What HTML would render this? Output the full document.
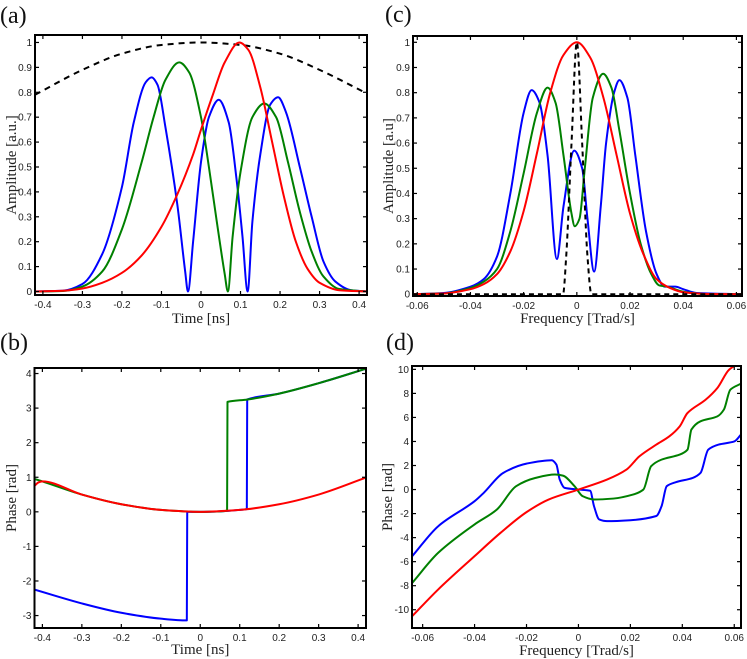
<!DOCTYPE html>
<html><head><meta charset="utf-8"><style>
html,body{margin:0;padding:0;background:#fff;}
svg{display:block;}
.tk{font-family:"Liberation Sans",sans-serif;font-size:10px;fill:#222;}
.al{font-family:"Liberation Serif",serif;font-size:15px;fill:#222;}
.pl{font-family:"Liberation Serif",serif;font-size:24px;fill:#111;}
</style></head><body>
<svg id="fig" width="747" height="659" viewBox="0 0 747 659" xmlns="http://www.w3.org/2000/svg"></svg>
<script>
// ---- Panel (a) data: amplitude vs time ----
const aBlueX=[-0.42,-0.35,-0.3,-0.25,-0.2,-0.17,-0.14,-0.125,-0.11,-0.09,-0.06,-0.04,-0.033,-0.02,0,0.02,0.045,0.07,0.09,0.105,0.118,0.13,0.15,0.175,0.195,0.215,0.25,0.28,0.31,0.34,0.38,0.42];
const aBlueY=[0,0.003,0.03,0.15,0.42,0.68,0.84,0.86,0.83,0.66,0.35,0.08,0,0.2,0.52,0.7,0.77,0.68,0.45,0.22,0,0.28,0.55,0.75,0.78,0.72,0.5,0.3,0.12,0.04,0.005,0];
const aGreenX=[-0.42,-0.35,-0.3,-0.25,-0.2,-0.15,-0.12,-0.09,-0.055,-0.03,0,0.02,0.04,0.06,0.068,0.08,0.1,0.13,0.16,0.19,0.22,0.25,0.28,0.31,0.35,0.42];
const aGreenY=[0,0.002,0.02,0.08,0.25,0.52,0.7,0.85,0.92,0.88,0.7,0.5,0.28,0.07,0,0.22,0.48,0.7,0.755,0.7,0.52,0.32,0.16,0.06,0.01,0];
const aRedX=[-0.42,-0.35,-0.3,-0.25,-0.2,-0.15,-0.1,-0.06,-0.02,0,0.03,0.06,0.097,0.12,0.15,0.18,0.21,0.24,0.27,0.3,0.35,0.42];
const aRedY=[0,0.003,0.012,0.035,0.075,0.145,0.26,0.39,0.55,0.65,0.79,0.92,1.0,0.97,0.82,0.6,0.38,0.2,0.09,0.035,0.005,0];
const aDashX=[-0.42,-0.3,-0.2,-0.1,0,0.1,0.2,0.3,0.42];
const aDashY=[0.79,0.89,0.955,0.99,1.0,0.99,0.955,0.89,0.795];
const aXTicks=[-0.4,-0.3,-0.2,-0.1,0,0.1,0.2,0.3,0.4];
const aXLabels=["-0.4","-0.3","-0.2","-0.1","0","0.1","0.2","0.3","0.4"];
const aYTicks=[0,0.1,0.2,0.3,0.4,0.5,0.6,0.7,0.8,0.9,1];
const aYLabels=["0","0.1","0.2","0.3","0.4","0.5","0.6","0.7","0.8","0.9","1"];

// ---- Panel (b) data: phase vs time ----
const bBlueX=[-0.42,-0.3,-0.2,-0.1,-0.034,-0.033,0,0.05,0.1,0.118,0.119,0.2,0.3,0.42];
const bBlueY=[-2.25,-2.65,-2.92,-3.09,-3.14,0,0,0.014,0.056,0.08,3.25,3.42,3.72,4.14];
const bGreenX=[-0.42,-0.4,-0.3,-0.2,-0.1,0,0.05,0.068,0.069,0.12,0.2,0.3,0.42];
const bGreenY=[0.95,0.88,0.5,0.22,0.056,0,0.014,0.03,3.18,3.25,3.42,3.72,4.14];
const bRedX=[-0.42,-0.41,-0.4,-0.3,-0.2,-0.1,0,0.1,0.2,0.3,0.42];
const bRedY=[0.75,0.85,0.88,0.5,0.22,0.056,0,0.056,0.22,0.5,0.99];
const bXTicks=[-0.4,-0.3,-0.2,-0.1,0,0.1,0.2,0.3,0.4];
const bXLabels=["-0.4","-0.3","-0.2","-0.1","0","0.1","0.2","0.3","0.4"];
const bYTicks=[-3,-2,-1,0,1,2,3,4];
const bYLabels=["-3","-2","-1","0","1","2","3","4"];

// ---- Panel (c) data: amplitude vs frequency ----
const cBlueX=[-0.062,-0.05,-0.04,-0.035,-0.03,-0.025,-0.02,-0.017,-0.014,-0.011,-0.0075,-0.005,-0.001,0.002,0.004,0.0065,0.009,0.011,0.014,0.016,0.019,0.022,0.026,0.03,0.033,0.037,0.04,0.045,0.062];
const cBlueY=[0,0.005,0.03,0.06,0.15,0.4,0.72,0.81,0.76,0.55,0.14,0.35,0.57,0.5,0.3,0.09,0.35,0.6,0.8,0.85,0.78,0.55,0.25,0.08,0.03,0.03,0.02,0.005,0];
const cGreenX=[-0.062,-0.05,-0.04,-0.035,-0.03,-0.025,-0.02,-0.015,-0.011,-0.008,-0.005,-0.002,-0.0008,0.001,0.003,0.006,0.0099,0.013,0.016,0.02,0.024,0.028,0.031,0.034,0.04,0.05,0.062];
const cGreenY=[0,0.003,0.025,0.05,0.1,0.25,0.48,0.72,0.82,0.76,0.55,0.32,0.27,0.3,0.5,0.78,0.875,0.82,0.65,0.4,0.2,0.08,0.035,0.03,0.01,0,0];
const cRedX=[-0.062,-0.05,-0.04,-0.035,-0.03,-0.025,-0.02,-0.015,-0.01,-0.005,0,0.005,0.01,0.015,0.02,0.025,0.03,0.035,0.04,0.05,0.062];
const cRedY=[0,0.003,0.02,0.04,0.08,0.17,0.33,0.56,0.8,0.95,1.0,0.94,0.78,0.55,0.32,0.16,0.06,0.025,0.008,0.001,0];
const cDashX=[-0.062,-0.0052,-0.004,-0.002,0,0.002,0.004,0.0055,0.062];
const cDashY=[0,0,0.15,0.6,1.0,0.6,0.15,0,0];
const cXTicks=[-0.06,-0.04,-0.02,0,0.02,0.04,0.06];
const cXLabels=["-0.06","-0.04","-0.02","0","0.02","0.04","0.06"];
const cYTicks=[0,0.1,0.2,0.3,0.4,0.5,0.6,0.7,0.8,0.9,1];
const cYLabels=["0","0.1","0.2","0.3","0.4","0.5","0.6","0.7","0.8","0.9","1"];

// ---- Panel (d) data: phase vs frequency ----
const dBlueX=[-0.064,-0.054,-0.04,-0.0365,-0.029,-0.02,-0.0103,-0.0085,-0.0072,-0.0053,0,0.0045,0.006,0.008,0.011,0.02,0.03,0.032,0.034,0.0375,0.044,0.047,0.05,0.054,0.06,0.0626];
const dBlueY=[-5.54,-3.05,-0.97,-0.28,1.38,2.16,2.44,2.08,0.83,0.14,0,-0.1,-1.39,-2.49,-2.63,-2.55,-2.2,-1.39,0.28,0.61,0.97,1.38,3.32,3.74,4.0,4.57];
const dGreenX=[-0.064,-0.054,-0.04,-0.0314,-0.024,-0.0165,-0.009,-0.006,-0.0015,0.0016,0.006,0.0135,0.021,0.025,0.028,0.032,0.039,0.042,0.0435,0.047,0.0535,0.056,0.0585,0.0626];
const dGreenY=[-7.76,-5.26,-2.9,-1.66,0.28,0.97,1.25,1.16,0.28,-0.55,-0.83,-0.75,-0.42,0,1.94,2.49,2.91,3.32,4.99,5.68,6.09,6.65,8.31,8.81];
const dRedX=[-0.064,-0.054,-0.04,-0.03,-0.02,-0.0115,0,0.011,0.0185,0.0235,0.03,0.035,0.039,0.042,0.049,0.0535,0.058,0.0626];
const dRedY=[-10.53,-8.31,-5.54,-3.6,-1.88,-0.83,0,0.83,1.66,2.77,3.74,4.43,5.26,6.37,7.48,8.45,9.97,10.6];
const dXTicks=[-0.06,-0.04,-0.02,0,0.02,0.04,0.06];
const dXLabels=["-0.06","-0.04","-0.02","0","0.02","0.04","0.06"];
const dYTicks=[-10,-8,-6,-4,-2,0,2,4,6,8,10];
const dYLabels=["-10","-8","-6","-4","-2","0","2","4","6","8","10"];

const NS="http://www.w3.org/2000/svg";
const svg=document.getElementById('fig');
function mk(tag,attrs,parent){const e=document.createElementNS(NS,tag);for(const k in attrs)e.setAttribute(k,attrs[k]);(parent||svg).appendChild(e);return e;}

function monoPath(px,py){
  const n=px.length;if(n<2)return '';
  const d=[],m=new Array(n);
  for(let i=0;i<n-1;i++){const dx=px[i+1]-px[i];d.push(dx===0?0:(py[i+1]-py[i])/dx);}
  m[0]=d[0];m[n-1]=d[n-2];
  for(let i=1;i<n-1;i++){m[i]=(d[i-1]*d[i]<=0)?0:(2/(1/d[i-1]+1/d[i]));}
  let s='M'+px[0].toFixed(2)+','+py[0].toFixed(2);
  for(let i=0;i<n-1;i++){
    const h=px[i+1]-px[i];
    if(Math.abs(h)<0.6){s+='L'+px[i+1].toFixed(2)+','+py[i+1].toFixed(2);continue;}
    const c1x=px[i]+h/3,c1y=py[i]+m[i]*h/3,c2x=px[i+1]-h/3,c2y=py[i+1]-m[i+1]*h/3;
    s+='C'+c1x.toFixed(2)+','+c1y.toFixed(2)+' '+c2x.toFixed(2)+','+c2y.toFixed(2)+' '+px[i+1].toFixed(2)+','+py[i+1].toFixed(2);
  }
  return s;
}

function panel(cfg){
  const g=mk('g',{});
  
  
  const L=cfg.box[0],T=cfg.box[1],R=cfg.box[2],B=cfg.box[3];
  const sx=v=>L+(v-cfg.xr[0])/(cfg.xr[1]-cfg.xr[0])*(R-L);
  const sy=v=>B-(v-cfg.yr[0])/(cfg.yr[1]-cfg.yr[0])*(B-T);
  const cid='clip-'+cfg.name;
  const defs=mk('defs',{},g);
  mk('rect',{x:L,y:T,width:R-L,height:B-T},mk('clipPath',{id:cid},defs));
  const lg=mk('g',{'clip-path':'url(#'+cid+')'},g);
  cfg.series.forEach(s=>{
    const p=mk('path',{d:monoPath(s.x.map(sx),s.y.map(sy)),fill:'none',stroke:s.c,'stroke-width':2,'stroke-linejoin':'round','stroke-dasharray':s.dash||'none'},lg);
    
    
  });
  const tg=mk('g',{stroke:'#000','stroke-width':1.2},g);
  cfg.xt.forEach((v,i)=>{
    const x=sx(v);
    mk('line',{x1:x,y1:B,x2:x,y2:B-4},tg);mk('line',{x1:x,y1:T,x2:x,y2:T+4},tg);
    const t=mk('text',{x:x,y:B+13,'text-anchor':'middle',class:'tk'},g);t.textContent=cfg.xl[i];
    
    
  });
  cfg.yt.forEach((v,i)=>{
    const y=sy(v);
    mk('line',{x1:L,y1:y,x2:L+4,y2:y},tg);mk('line',{x1:R,y1:y,x2:R-4,y2:y},tg);
    const t=mk('text',{x:L-3,y:y+3.5,'text-anchor':'end',class:'tk'},g);t.textContent=cfg.yl[i];
    
    
  });
  const fr=mk('rect',{x:L,y:T,width:R-L,height:B-T,fill:'none',stroke:'#000','stroke-width':2},g);
  
  
  const xt=mk('text',{x:(L+R)/2,y:cfg.xly,'text-anchor':'middle',class:'al'},g);xt.textContent=cfg.xlab;
  
  
  const yx=cfg.ylx,yy=(T+B)/2;
  const yt=mk('text',{x:yx,y:yy,'text-anchor':'middle',class:'al',transform:'rotate(-90 '+yx+' '+yy+')'},g);yt.textContent=cfg.ylab;
  
  
  const pl=mk('text',{x:cfg.pl[0],y:cfg.pl[1],class:'pl'},g);pl.textContent=cfg.plab;
  
  
}

panel({name:'panel-a',box:[35,35,367,295],xr:[-0.42,0.42],yr:[-0.014,1.03],
  xt:aXTicks,xl:aXLabels,yt:aYTicks,yl:aYLabels,xlab:'Time [ns]',ylab:'Amplitude [a.u.]',xly:323,ylx:16,pl:[0,23],plab:'(a)',
  series:[{x:aDashX,y:aDashY,c:'#000',dash:'6,5',n:'envelope-dashed'},{x:aBlueX,y:aBlueY,c:'#0000ff',n:'blue-amplitude'},{x:aGreenX,y:aGreenY,c:'#008000',n:'green-amplitude'},{x:aRedX,y:aRedY,c:'#ff0000',n:'red-amplitude'}]});
panel({name:'panel-c',box:[413,36,742,296],xr:[-0.0616,0.0621],yr:[-0.007,1.025],
  xt:cXTicks,xl:cXLabels,yt:cYTicks,yl:cYLabels,xlab:'Frequency [Trad/s]',ylab:'Amplitude [a.u]',xly:323,ylx:393,pl:[385,22],plab:'(c)',
  series:[{x:cBlueX,y:cBlueY,c:'#0000ff',n:'blue-spectrum'},{x:cGreenX,y:cGreenY,c:'#008000',n:'green-spectrum'},{x:cRedX,y:cRedY,c:'#ff0000',n:'red-spectrum'},{x:cDashX,y:cDashY,c:'#000',dash:'5,4',n:'filter-dashed'}]});
panel({name:'panel-b',box:[34.5,368,366,628],xr:[-0.42,0.42],yr:[-3.36,4.16],
  xt:bXTicks,xl:bXLabels,yt:bYTicks,yl:bYLabels,xlab:'Time [ns]',ylab:'Phase [rad]',xly:654,ylx:16,pl:[0,350],plab:'(b)',
  series:[{x:bBlueX,y:bBlueY,c:'#0000ff',n:'blue-phase'},{x:bGreenX,y:bGreenY,c:'#008000',n:'green-phase'},{x:bRedX,y:bRedY,c:'#ff0000',n:'red-phase'}]});
panel({name:'panel-d',box:[412,366,741,628],xr:[-0.0641,0.0626],yr:[-11.52,10.28],
  xt:dXTicks,xl:dXLabels,yt:dYTicks,yl:dYLabels,xlab:'Frequency [Trad/s]',ylab:'Phase [rad]',xly:655,ylx:392,pl:[386,350],plab:'(d)',
  series:[{x:dBlueX,y:dBlueY,c:'#0000ff',n:'blue-spectral-phase'},{x:dGreenX,y:dGreenY,c:'#008000',n:'green-spectral-phase'},{x:dRedX,y:dRedY,c:'#ff0000',n:'red-spectral-phase'}]});
</script>
</body></html>
